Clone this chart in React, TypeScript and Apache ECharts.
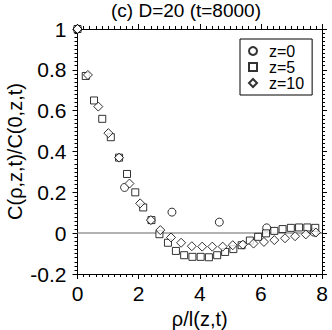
import React, { useEffect, useRef } from "react";
import * as echarts from "echarts";

// z = 0 (circles)
const rhoZ0 = [0, 1.54, 3.09, 4.64, 6.19, 7.74];
const cZ0 = [1, 0.224, 0.103, 0.054, 0.026, 0.005];

// z = 5 (squares)
const rhoZ5 = [
  0, 0.27, 0.54, 0.81, 1.09, 1.36, 1.62, 1.89, 2.15, 2.42, 2.68, 2.96, 3.22, 3.49, 3.76,
  4.03, 4.3, 4.57, 4.83, 5.1, 5.37, 5.64, 5.91, 6.17, 6.44, 6.71, 6.98, 7.25, 7.52, 7.78,
];
const cZ5 = [
  1, 0.77, 0.65, 0.56, 0.47, 0.37, 0.29, 0.2, 0.126, 0.064, -0.005, -0.047, -0.087, -0.108,
  -0.116, -0.116, -0.118, -0.108, -0.092, -0.078, -0.059, -0.036, -0.018, -0.001, 0.011,
  0.02, 0.026, 0.028, 0.028, 0.026,
];

// z = 10 (diamonds)
const rhoZ10 = [
  0, 0.34, 0.68, 1.01, 1.36, 1.7, 2.05, 2.4, 2.71, 3.06, 3.39, 3.74, 4.08, 4.41, 4.75, 5.08,
  5.41, 5.76, 6.1, 6.44, 6.79, 7.12, 7.47, 7.8,
];
const cZ10 = [
  1, 0.775, 0.62, 0.49, 0.37, 0.243, 0.146, 0.064, 0.015, -0.021, -0.047, -0.064, -0.066,
  -0.066, -0.066, -0.059, -0.056, -0.051, -0.043, -0.034, -0.025, -0.015, -0.006, 0.003,
];

const seriesNames = ["z=0", "z=5", "z=10"];
const titleText = "(c) D=20 (t=8000)";
const xName = "ρ/l(z,t)";
const yName = "C(ρ,z,t)/C(0,z,t)";

const FONT = "'Liberation Sans', Arial, Helvetica, sans-serif";

const zip = (xs: number[], ys: number[]) => xs.map((x, i) => [x, ys[i]]);

export default function App() {
  const ref = useRef<HTMLDivElement>(null);
  useEffect(() => {
    if (!ref.current) return;
    const chart = echarts.init(ref.current, null, { renderer: "svg" });
    const axisLine = { show: true, onZero: false, lineStyle: { color: "#000", width: 1 } };
    const axisTick = { show: true, inside: false, length: 5, lineStyle: { color: "#000", width: 1 } };
    const minorTick = { show: true, splitNumber: 10, length: 3, lineStyle: { color: "#000", width: 1 } };
    const markerStyle = { color: "#fff", borderColor: "#000", borderWidth: 1 };
    chart.setOption({
      animation: false,
      backgroundColor: "#fff",
      textStyle: { fontFamily: FONT },
      title: {
        text: titleText,
        left: 111,
        top: 1,
        padding: 0,
        textStyle: { fontFamily: FONT, fontSize: 19, fontWeight: "normal", color: "#000" },
      },
      grid: { left: 77.5, right: 10, top: 29, bottom: 56, outerBoundsMode: "none", containLabel: false },
      legend: {
        orient: "vertical",
        left: 240,
        top: 39,
        padding: [4, 8, 4, 8],
        itemGap: 0,
        itemWidth: 8,
        itemHeight: 8,
        borderColor: "#000",
        borderWidth: 1,
        backgroundColor: "#fff",
        textStyle: { fontFamily: FONT, fontSize: 16, color: "#000", padding: [0, 0, 0, 7] },
        data: seriesNames,
      },
      xAxis: [
        {
          type: "value",
          min: 0,
          max: 8,
          interval: 2,
          name: xName,
          nameLocation: "middle",
          nameGap: 29,
          nameTextStyle: { fontFamily: FONT, fontSize: 20, color: "#000" },
          axisLine,
          axisTick,
          minorTick,
          splitLine: { show: false },
          axisLabel: { fontFamily: FONT, fontSize: 21, color: "#000", margin: 9 },
        },
        {
          type: "value",
          position: "top",
          min: 0,
          max: 8,
          interval: 2,
          axisLine,
          axisTick,
          minorTick,
          splitLine: { show: false },
          axisLabel: { show: false },
        },
      ],
      yAxis: [
        {
          type: "value",
          min: -0.2,
          max: 1,
          interval: 0.2,
          name: yName,
          nameLocation: "middle",
          nameGap: 53,
          nameMoveOverlap: false,
          nameTextStyle: { fontFamily: FONT, fontSize: 20, color: "#000" },
          axisLine,
          axisTick,
          minorTick,
          splitLine: { show: false },
          axisLabel: {
            fontFamily: FONT,
            fontSize: 21,
            color: "#000",
            margin: 11,
            formatter: (v: number) => String(Math.round(v * 10) / 10),
          },
        },
        {
          type: "value",
          position: "right",
          min: -0.2,
          max: 1,
          interval: 0.2,
          axisLine,
          axisTick,
          minorTick,
          splitLine: { show: false },
          axisLabel: { show: false },
        },
      ],
      series: [
        {
          name: seriesNames[0],
          type: "scatter",
          symbol: "circle",
          symbolSize: 8,
          clip: false,
          itemStyle: markerStyle,
          data: zip(rhoZ0, cZ0),
          z: 3,
          markLine: {
            silent: true,
            symbol: "none",
            label: { show: false },
            lineStyle: { color: "#999", width: 1.5, type: "solid" },
            data: [{ yAxis: 0 }],
            z: 1,
          },
        },
        {
          name: seriesNames[1],
          type: "scatter",
          symbol: "rect",
          symbolSize: 7,
          clip: false,
          itemStyle: markerStyle,
          data: zip(rhoZ5, cZ5),
          z: 3,
        },
        {
          name: seriesNames[2],
          type: "scatter",
          symbol: "diamond",
          symbolSize: 9,
          clip: false,
          itemStyle: markerStyle,
          data: zip(rhoZ10, cZ10),
          z: 3,
        },
      ],
    });
    return () => chart.dispose();
  }, []);
  return (
    <div
      ref={ref}
      style={{ position: "absolute", left: 0, top: 0, width: 332, height: 330 }}
    />
  );
}
